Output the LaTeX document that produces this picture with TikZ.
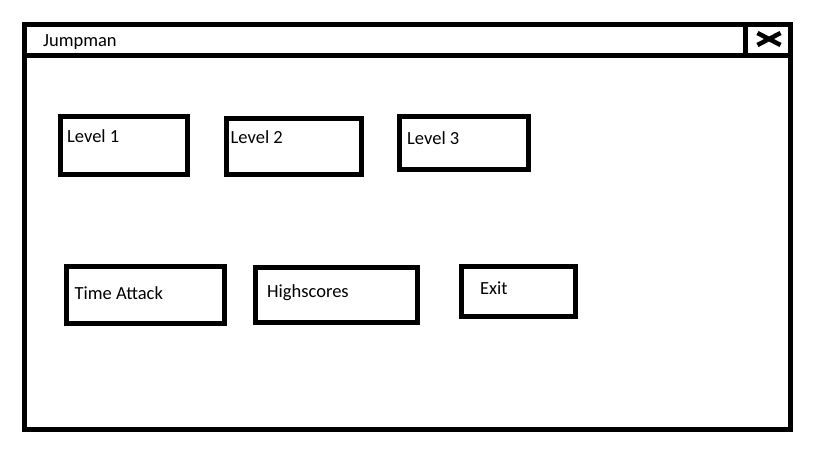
\documentclass[tikz,border=0pt]{standalone}
\usepackage{fontspec}
\setmainfont{Carlito}
\begin{document}
\begin{tikzpicture}[x=1pt,y=-1pt,
  frame/.style={draw=black,line width=5pt},
  btn/.style={draw=black,line width=5pt,rectangle,inner sep=0pt,minimum width=#1},
  lbl/.style={anchor=base west,inner sep=0pt,font=\fontsize{18.5}{22}\selectfont},
  closex/.style={draw=black,line width=4.5pt}]
\useasboundingbox (0,0) rectangle (817,459);
% window
\draw[frame] (24.7,24.7) rectangle (790.5,429);
\coordinate (tl) at (24.7,55);
\coordinate (tr) at (790.5,55);
\draw[frame] (tl) -- (tr);
\coordinate (ct) at (745,24.7);
\coordinate (cb) at (745,55);
\draw[frame] (ct) -- (cb);
\coordinate (xa) at (757.5,33);
\coordinate (xb) at (780.5,45);
\coordinate (xc) at (757.5,45);
\coordinate (xd) at (780.5,33);
\draw[closex] (xa) -- (xb) (xc) -- (xd);
\node[lbl] (title) at (43,46) {Jumpman};
% buttons row 1
\node[btn=127pt,minimum height=58pt] (b1) at (124,145.5) {};
\node[btn=135pt,minimum height=56pt] (b2) at (293.5,146) {};
\node[btn=129pt,minimum height=53pt] (b3) at (463.5,142.5) {};
\node[lbl] (t1) at (67,142.3) {Level 1};
\node[lbl] (t2) at (230.5,143.3) {Level 2};
\node[lbl] (t3) at (407,144.7) {Level 3};
% buttons row 2
\node[btn=158pt,minimum height=57pt] (b4) at (145.5,294.5) {};
\node[btn=161.5pt,minimum height=55pt] (b5) at (336.25,294.5) {};
\node[btn=113.5pt,minimum height=50pt] (b6) at (518.25,291) {};
\node[lbl] (t4) at (74.5,299) {Time Attack};
\node[lbl] (t5) at (267,297.7) {Highscores};
\node[lbl] (t6) at (480,294.3) {Exit};
\end{tikzpicture}
\end{document}
